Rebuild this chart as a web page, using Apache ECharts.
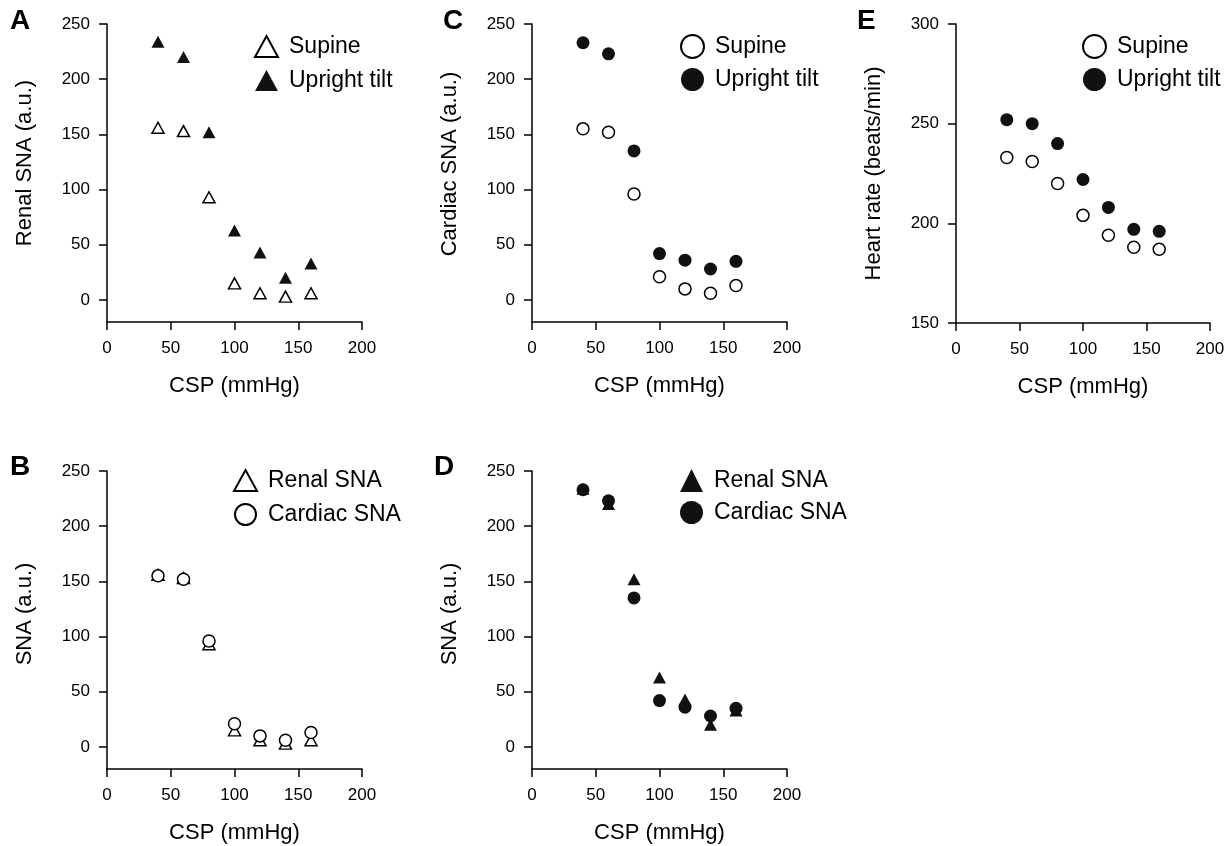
<!DOCTYPE html>
<html>
<head>
<meta charset="utf-8">
<script src="https://cdn.jsdelivr.net/npm/echarts@6/dist/echarts.min.js"></script>
<style>
html,body{margin:0;padding:0;background:#fff;}
#chart{width:1232px;height:846px;}
</style>
</head>
<body>
<div id="chart"></div>
<script>
// ---- data ----
const csp = [40, 60, 80, 100, 120, 140, 160];
const renalSupine = [156, 153, 93, 15, 6, 3, 6];
const renalTilt = [234, 220, 152, 63, 43, 20, 33];
const cardiacSupine = [155, 152, 96, 21, 10, 6, 13];
const cardiacTilt = [233, 223, 135, 42, 36, 28, 35];
const hrSupine = [233, 231, 220, 204, 194, 188, 187];
const hrTilt = [252, 250, 240, 222, 208, 197, 196];
const snaTicks = [0, 50, 100, 150, 200, 250];
const hrTicks = [150, 200, 250, 300];
const panelLetters = ['A', 'C', 'E', 'B', 'D'];

const FONT = 'Liberation Sans, Arial, Helvetica, sans-serif';
const BLACK = '#000';
const FILL = '#111';

function pairs(xs, ys) { return xs.map((x, i) => [x, ys[i]]); }

const grids = [
  { left: 107, top: 24, width: 255, height: 298 },  // A
  { left: 532, top: 24, width: 255, height: 298 },  // C
  { left: 956, top: 24, width: 254, height: 299 },  // E
  { left: 107, top: 471, width: 255, height: 298 }, // B
  { left: 532, top: 471, width: 255, height: 298 }  // D
];
const yNames = ['Renal SNA (a.u.)', 'Cardiac SNA (a.u.)', 'Heart rate (beats/min)', 'SNA (a.u.)', 'SNA (a.u.)'];
const yShift = [20, 18, 0, 12, 12];

const xAxes = grids.map((g, i) => ({
  type: 'value', gridIndex: i, min: 0, max: 200, interval: 50,
  name: 'CSP (mmHg)', nameLocation: 'middle', nameGap: 53,
  nameTextStyle: { fontSize: 22, color: BLACK, fontFamily: FONT },
  axisLine: { onZero: false, lineStyle: { color: BLACK, width: 1.5 } },
  axisTick: { length: 8, lineStyle: { color: BLACK, width: 1.5 } },
  axisLabel: { fontSize: 17, color: BLACK, margin: 18, fontFamily: FONT },
  splitLine: { show: false }
}));

const yAxes = grids.map((g, i) => {
  const isHR = i === 2;
  const ax = {
    type: 'value', gridIndex: i,
    min: isHR ? hrTicks[0] : -20, max: isHR ? hrTicks[hrTicks.length - 1] : 250,
    name: yNames[i], nameLocation: 'middle', nameGap: 71,
    nameTextStyle: { fontSize: 22, color: BLACK, fontFamily: FONT, padding: [0, 0, 0, yShift[i]] },
    axisLine: { onZero: false, lineStyle: { color: BLACK, width: 1.5 } },
    axisTick: { length: 8, lineStyle: { color: BLACK, width: 1.5 } },
    axisLabel: { fontSize: 17, color: BLACK, margin: 17, fontFamily: FONT },
    splitLine: { show: false }
  };
  if (isHR) {
    ax.interval = 50;
  } else {
    ax.axisTick.customValues = snaTicks;
    ax.axisLabel.customValues = snaTicks;
  }
  return ax;
});

function openStyle() { return { color: '#fff', borderColor: BLACK, borderWidth: 1.5, opacity: 1 }; }
function fillStyle() { return { color: FILL, borderColor: FILL, borderWidth: 0, opacity: 1 }; }

const TRI_O = [12, 11];
const TRI_F = [13, 12];
const CIR_O = 12;
const CIR_F = 13;

const series = [
  // A
  { name: 'A|Supine', type: 'scatter', xAxisIndex: 0, yAxisIndex: 0, symbol: 'triangle', symbolSize: TRI_O, itemStyle: openStyle(), data: pairs(csp, renalSupine) },
  { name: 'A|Upright tilt', type: 'scatter', xAxisIndex: 0, yAxisIndex: 0, symbol: 'triangle', symbolSize: TRI_F, itemStyle: fillStyle(), data: pairs(csp, renalTilt) },
  // C
  { name: 'C|Supine', type: 'scatter', xAxisIndex: 1, yAxisIndex: 1, symbol: 'circle', symbolSize: CIR_O, itemStyle: openStyle(), data: pairs(csp, cardiacSupine) },
  { name: 'C|Upright tilt', type: 'scatter', xAxisIndex: 1, yAxisIndex: 1, symbol: 'circle', symbolSize: CIR_F, itemStyle: fillStyle(), data: pairs(csp, cardiacTilt) },
  // E
  { name: 'E|Supine', type: 'scatter', xAxisIndex: 2, yAxisIndex: 2, symbol: 'circle', symbolSize: CIR_O, itemStyle: openStyle(), data: pairs(csp, hrSupine) },
  { name: 'E|Upright tilt', type: 'scatter', xAxisIndex: 2, yAxisIndex: 2, symbol: 'circle', symbolSize: CIR_F, itemStyle: fillStyle(), data: pairs(csp, hrTilt) },
  // B
  { name: 'B|Renal SNA', type: 'scatter', xAxisIndex: 3, yAxisIndex: 3, symbol: 'triangle', symbolSize: TRI_O, itemStyle: openStyle(), data: pairs(csp, renalSupine) },
  { name: 'B|Cardiac SNA', type: 'scatter', xAxisIndex: 3, yAxisIndex: 3, symbol: 'circle', symbolSize: CIR_O, itemStyle: openStyle(), data: pairs(csp, cardiacSupine) },
  // D
  { name: 'D|Renal SNA', type: 'scatter', xAxisIndex: 4, yAxisIndex: 4, symbol: 'triangle', symbolSize: TRI_F, itemStyle: fillStyle(), data: pairs(csp, renalTilt) },
  { name: 'D|Cardiac SNA', type: 'scatter', xAxisIndex: 4, yAxisIndex: 4, symbol: 'circle', symbolSize: CIR_F, itemStyle: fillStyle(), data: pairs(csp, cardiacTilt) }
].map((s, i) => Object.assign(s, { silent: true, animation: false, z: 2 + (i % 2) }));

function legend(left, top, idxA, idxB, w, h) {
  return {
    left: left, top: top, orient: 'vertical', padding: 0, itemGap: 32 - h,
    itemWidth: w, itemHeight: h, selectedMode: false,
    formatter: n => n.split('|')[1],
    textStyle: { fontSize: 23, color: BLACK, fontFamily: FONT, padding: [0, 0, 0, 6] },
    data: [series[idxA].name, series[idxB].name]
  };
}

const legends = [
  legend(254, 35, 0, 1, 23, 21),
  legend(680, 34, 2, 3, 23, 23),
  legend(1082, 34, 4, 5, 23, 23),
  legend(233, 469, 6, 7, 23, 21),
  legend(680, 469, 8, 9, 23, 23)
];

const letterPos = [[10, 7], [443, 7], [857, 7], [10, 453], [434, 453]];
const titles = panelLetters.map((t, i) => ({
  text: t, left: letterPos[i][0], top: letterPos[i][1], padding: 0,
  textStyle: { fontSize: 28, fontWeight: 'bold', color: BLACK, fontFamily: FONT }
}));

const chart = echarts.init(document.getElementById('chart'), null, { renderer: 'canvas' });
chart.setOption({
  animation: false,
  backgroundColor: '#fff',
  textStyle: { fontFamily: FONT },
  title: titles,
  grid: grids,
  xAxis: xAxes,
  yAxis: yAxes,
  legend: legends,
  series: series
});
</script>
</body>
</html>
